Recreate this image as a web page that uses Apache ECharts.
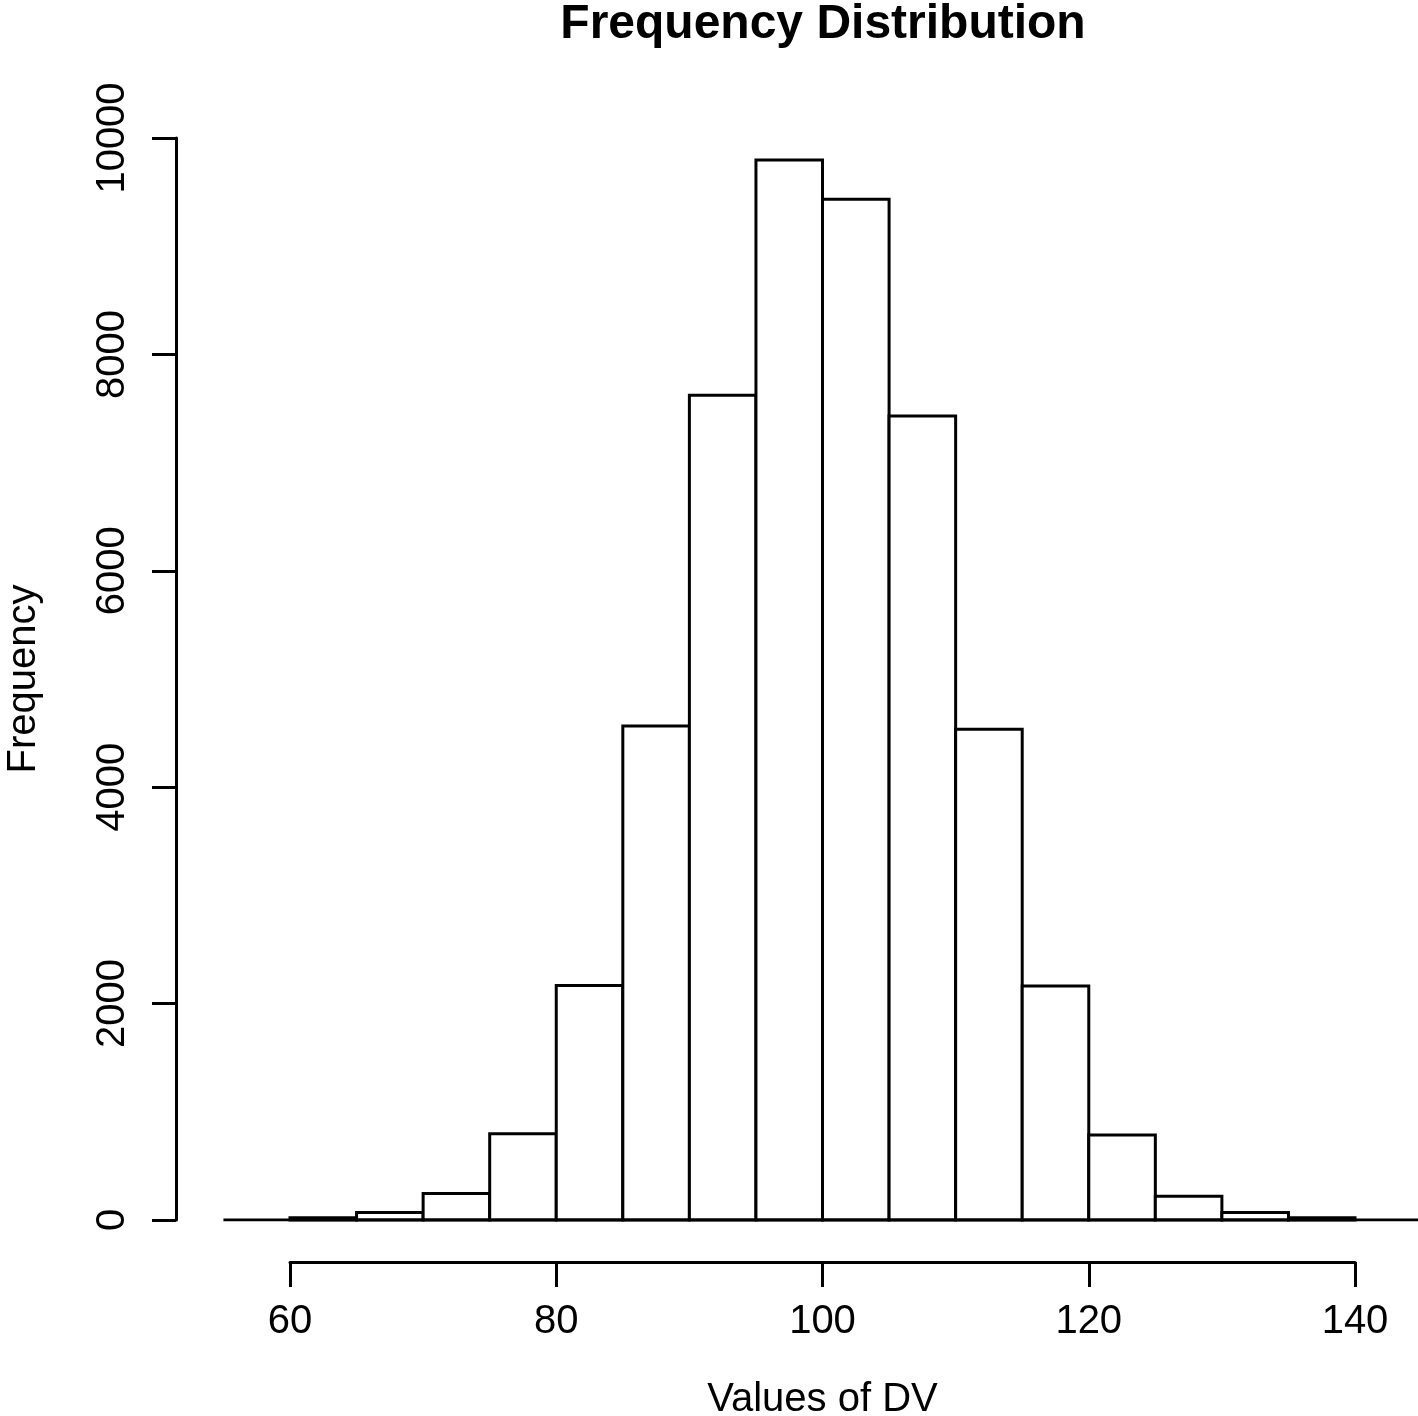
<!DOCTYPE html>
<html>
<head>
<meta charset="utf-8">
<script src="https://cdn.jsdelivr.net/npm/echarts@6/dist/echarts.min.js"></script>
<style>
html,body{margin:0;padding:0;background:#fff;}
#chart{width:1418px;height:1416px;}
</style>
</head>
<body>
<div id="chart"></div>
<script>
// Histogram bins (lower edges), bin width and counts
const binStarts = [60, 65, 70, 75, 80, 85, 90, 95, 100, 105, 110, 115, 120, 125, 130, 135];
const binWidth = 5;
const counts = [20, 70, 245, 798, 2167, 4566, 7622, 9797, 9433, 7431, 4535, 2163, 786, 220, 70, 20];
const xTicks = [60, 80, 100, 120, 140];
const yTicks = [0, 2000, 4000, 6000, 8000, 10000];

const titleText = 'Frequency Distribution';
const xName = 'Values of DV';
const yName = 'Frequency';

const FONT = '"Liberation Sans", Arial, Helvetica, sans-serif';

const histData = binStarts.map((s, i) => [s, s + binWidth, counts[i]]);

const chart = echarts.init(document.getElementById('chart'), null, {renderer: 'canvas'});

const option = {
  backgroundColor: '#ffffff',
  animation: false,
  title: {
    text: titleText,
    left: 818,
    textAlign: 'center',
    top: -4,
    textStyle: {fontFamily: FONT, fontSize: 48, fontWeight: 'bold', color: '#000'}
  },
  grid: [
    {left: 176, right: 0, top: 138, bottom: 196, containLabel: false, outerBoundsMode: 'none'},
    {left: 290, width: 1065, top: 1261, height: 1, containLabel: false, outerBoundsMode: 'none'}
  ],
  xAxis: [
    {
      gridIndex: 0, type: 'value', min: 51.437, max: 144.73,
      show: false
    },
    {
      gridIndex: 1, type: 'value', min: xTicks[0], max: xTicks[xTicks.length - 1], interval: 20,
      position: 'bottom',
      axisLine: {show: true, lineStyle: {color: '#000', width: 3}},
      axisTick: {show: true, length: 25, lineStyle: {color: '#000', width: 3}},
      axisLabel: {fontFamily: FONT, fontSize: 40, color: '#000', margin: 40},
      splitLine: {show: false},
      name: xName, nameLocation: 'middle', nameGap: 118,
      nameTextStyle: {fontFamily: FONT, fontSize: 40, color: '#000'}
    }
  ],
  yAxis: [
    {
      gridIndex: 0, type: 'value', min: yTicks[0], max: yTicks[yTicks.length - 1], interval: 2000,
      axisLine: {show: true, lineStyle: {color: '#000', width: 3}},
      axisTick: {show: true, length: 24, lineStyle: {color: '#000', width: 3}},
      axisLabel: {
        fontFamily: FONT, fontSize: 40, color: '#000', rotate: 90, margin: 43,
        formatter: function (v) { return String(v); }
      },
      splitLine: {show: false},
      name: yName, nameLocation: 'middle', nameGap: 132, nameRotate: 90,
      nameTextStyle: {fontFamily: FONT, fontSize: 40, color: '#000'}
    },
    {gridIndex: 1, type: 'value', show: false, min: 0, max: 1}
  ],
  series: [
    {
      type: 'custom',
      xAxisIndex: 0, yAxisIndex: 0,
      data: histData,
      clip: false,
      renderItem: function (params, api) {
        const p0 = api.coord([api.value(0), api.value(2)]);
        const p1 = api.coord([api.value(1), 0]);
        return {
          type: 'rect',
          shape: {x: p0[0], y: p0[1], width: p1[0] - p0[0], height: p1[1] - p0[1]},
          style: {fill: '#ffffff', stroke: '#000000', lineWidth: 3}
        };
      },
      z: 2
    },
    {
      type: 'line',
      xAxisIndex: 0, yAxisIndex: 0,
      data: [[55, 0], [144.73, 0]],
      symbol: 'none',
      lineStyle: {color: '#000', width: 3},
      z: 3,
      silent: true
    }
  ]
};
chart.setOption(option);
</script>
</body>
</html>
